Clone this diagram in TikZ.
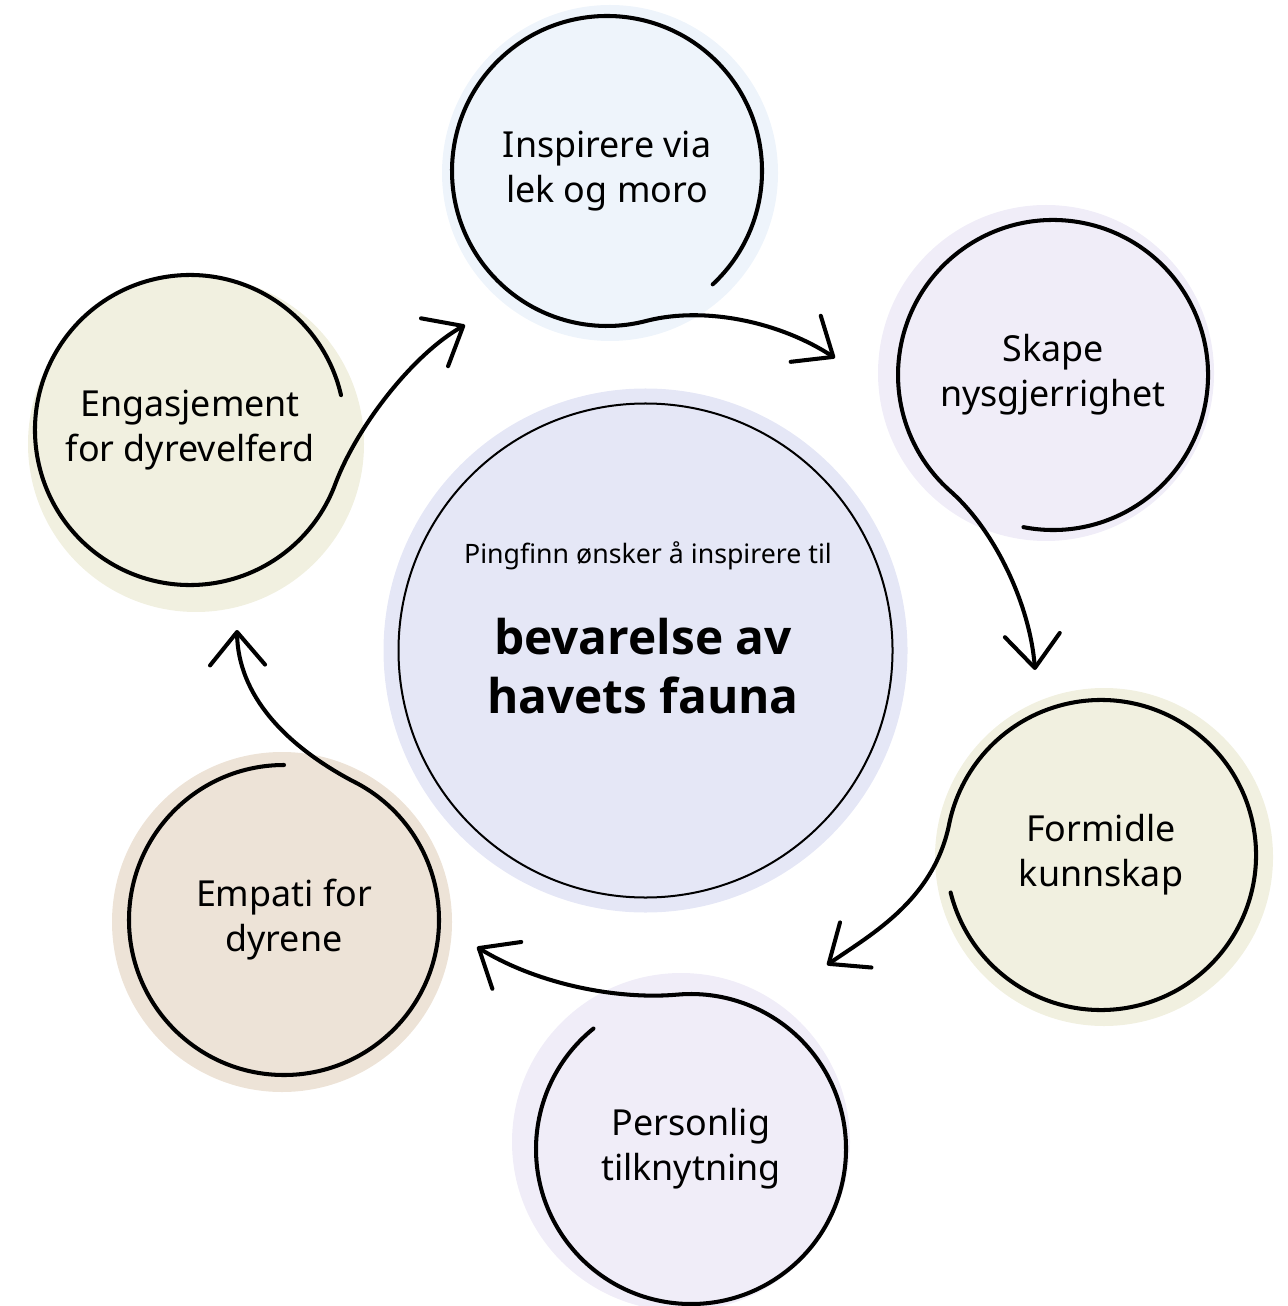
\documentclass[tikz,border=0pt]{standalone}
\usepackage{fontspec}
\setmainfont{Noto Sans}
\newfontfamily\goalfont{Open Sans}
\usetikzlibrary{arrows.meta, backgrounds}
\definecolor{skyfill}{HTML}{EEF4FB}
\definecolor{lilacfill}{HTML}{F0EDF8}
\definecolor{creamfill}{HTML}{F1F0E0}
\definecolor{sandfill}{HTML}{EDE3D7}
\definecolor{corefill}{HTML}{E5E7F6}

\begin{document}
\begin{tikzpicture}[
        stage/.style = {circle, minimum size = 3.1cm, inner sep = 0pt, outer sep = 0pt,
            align = center, font = \fontsize{10.2}{12.8}\selectfont},
        flowline/.style = {line width = 1.15pt, line cap = round,
            -{Straight Barb[length = 3.3mm, width = 5.5mm, round]}}
    ]
    \useasboundingbox (0, 0) rectangle (12.87, -13.06);

    \node [stage] (inspire) at (6.07, -1.71) {Inspirere via\\lek og moro};
    \node [stage] (curious) at (10.53, -3.75) {Skape\\nysgjerrighet};
    \node [stage] (knowledge) at (11.01, -8.55) {Formidle\\kunnskap};
    \node [stage] (bond) at (6.91, -11.49) {Personlig\\tilknytning};
    \node [stage] (empathy) at (2.84, -9.20) {Empati for\\dyrene};
    \node [stage] (welfare) at (1.90, -4.30) {Engasjement\\for dyrevelferd};

    \node [circle, draw, line width = 0.57pt, minimum size = 4.94cm] (core) at (6.455, -6.505) {};
    \node [font = \fontsize{7.6}{9}\selectfont] (motto) at (6.48, -5.56) {Pingfinn ønsker å inspirere til};
    \node [font = \goalfont\bfseries\fontsize{13.6}{17}\selectfont, align = center] (goal) at (6.43, -6.66) {bevarelse av\\havets fauna};

    \begin{scope}[on background layer]
        \fill [corefill] (core.center) circle (2.62);
        \fill [skyfill] ([shift = {(0.03, -0.02)}] inspire.center) circle (1.68);
        \fill [lilacfill] ([shift = {(-0.07, 0.02)}] curious.center) circle (1.68);
        \fill [creamfill] ([shift = {(0.03, -0.02)}] knowledge.center) circle (1.69);
        \fill [lilacfill] ([shift = {(-0.10, 0.07)}] bond.center) circle (1.69);
        \fill [sandfill] ([shift = {(-0.02, -0.02)}] empathy.center) circle (1.70);
        \fill [creamfill] ([shift = {(0.06, -0.14)}] welfare.center) circle (1.68);
    \end{scope}

    \coordinate (tipA) at (8.35, -3.58);
    \coordinate (tipB) at (10.35, -6.70);
    \coordinate (tipC) at (8.27, -9.65);
    \coordinate (tipD) at (4.77, -9.47);
    \coordinate (tipE) at (2.37, -6.30);
    \coordinate (tipF) at (4.65, -3.25);

    \draw [flowline] (inspire.-47) arc (-47:285:1.55)
        .. controls (7.05, -3.06) and (7.80, -3.22) .. (tipA);
    \draw [flowline] (curious.259) arc (259:588:1.55)
        .. controls (9.95, -5.30) and (10.30, -6.05) .. (tipB);
    \draw [flowline] (knowledge.194) arc (194:527.5:1.55)
        .. controls (9.35, -9.00) and (8.70, -9.35) .. (tipC);
    \draw [flowline] (bond.129) arc (129:455:1.55)
        .. controls (6.17, -10.00) and (5.37, -9.84) .. (tipD);
    \draw [flowline] (empathy.90) arc (90:424:1.55)
        .. controls (2.85, -7.45) and (2.38, -6.95) .. (tipE);
    \draw [flowline] (welfare.13) arc (13:340:1.55)
        .. controls (3.57, -4.27) and (4.12, -3.55) .. (tipF);
\end{tikzpicture}
\end{document}
